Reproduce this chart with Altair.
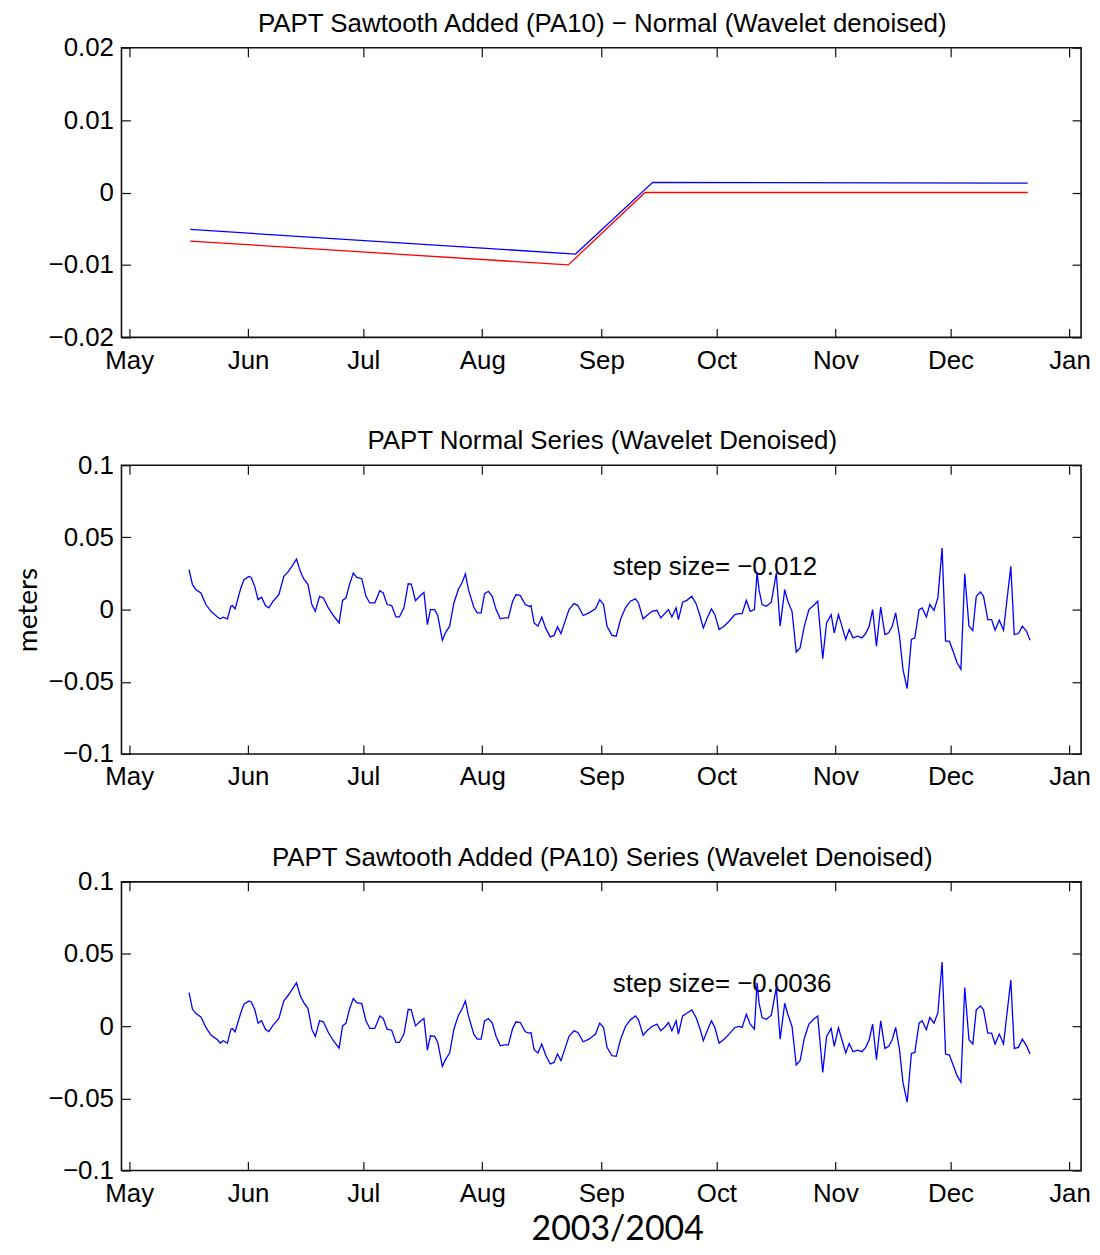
import altair as alt
import pandas as pd

START = "2003-05-01"  # day offsets below are counted from this date

# ---------------- panel 1: trend lines (day offset, metres)
trend_blue_days = [15.9, 116.3, 136.4, 234.1]
trend_blue_vals = [-0.0051, -0.0085, 0.0014, 0.0013]
trend_red_days = [15.9, 114.4, 134.4, 234.1]
trend_red_vals = [-0.0067, -0.0100, 0.0000, 0.0000]

# ---------------- panels 2 and 3: denoised series (day offset, metres)
days = [
    15.6, 16.5, 17.4, 18.7, 20.0, 21.3, 23.0, 23.7, 24.5, 25.6, 26.5, 26.9, 27.6, 29.1, 29.9,
    31.2, 31.8, 32.7, 33.6, 34.5, 35.5, 36.4, 37.5, 39.0, 40.3, 41.3, 42.4, 43.6, 44.6, 45.5,
    46.6, 47.6, 48.5, 49.6, 50.6, 51.9, 53.2, 54.7, 55.6, 56.5, 57.4, 58.4, 59.3, 60.6, 61.7,
    62.7, 64.0, 65.3, 66.2, 67.2, 68.4, 69.5, 70.4,
    71.6, 72.7, 73.5, 74.6, 75.7, 76.8, 77.7, 78.5, 79.6, 80.4, 81.6, 82.4, 83.5, 84.6, 85.8,
    86.7, 87.6, 88.4, 89.8, 90.7, 91.7, 92.6, 93.6, 94.6, 95.6, 96.7, 97.7, 98.8, 99.9, 100.8,
    101.9, 103.2, 104.2, 104.7, 105.5, 106.5, 107.5, 108.5, 109.7, 110.7, 111.6, 112.5, 113.5,
    114.6, 115.9, 116.9, 118.3, 119.8, 121.5, 122.6, 123.6,
    124.5, 125.8, 126.9, 128.0, 129.3, 130.6, 131.9, 132.7, 133.9, 134.9, 136.2, 137.5, 138.5,
    139.7, 140.5, 141.4, 142.5, 143.1, 144.2, 145.3, 146.6, 147.7, 148.7, 149.6, 150.6, 151.7,
    152.6, 153.7, 155.0, 156.3, 157.8, 158.9, 159.7, 160.8, 161.8, 162.9, 163.6, 164.1, 164.9,
    166.0, 167.3, 168.6, 169.6, 170.8, 171.6, 172.7, 173.8, 174.8, 175.9, 177.1, 178.3, 179.4,
    180.7, 181.7, 182.9, 183.7, 184.8, 185.7, 186.7, 187.6, 188.6, 189.8, 190.9, 191.9, 192.8,
    193.7, 194.7, 195.8, 196.9, 197.9, 198.8, 199.7, 200.7, 201.6, 202.7, 203.8, 204.7, 205.8,
    206.6, 207.7, 208.6, 209.7, 210.7, 211.8, 212.7, 213.7, 214.8, 215.7, 216.7, 217.7, 218.8,
    219.8, 220.7, 221.8, 222.6, 223.7, 224.7, 225.6, 226.7, 227.8, 229.7, 230.6, 231.7, 232.7,
    233.8, 234.7,
]

normal_vals = [
    0.0276, 0.0173, 0.0138, 0.0115, 0.0035, -0.0012, -0.0051, -0.0064, -0.0053, -0.0064, 0.0023,
    0.0028, 0.0005, 0.0150, 0.0207, 0.0230, 0.0223, 0.0161, 0.0069, 0.0085, 0.0028, 0.0012,
    0.0058, 0.0104, 0.0230, 0.0258, 0.0299, 0.0350, 0.0265, 0.0212, 0.0173, 0.0035, -0.0012,
    0.0092, 0.0081, 0.0012, -0.0041, -0.0092, 0.0064, 0.0081, 0.0173, 0.0253, 0.0223, 0.0214,
    0.0092, 0.0046, 0.0046, 0.0131, 0.0115, 0.0035, 0.0028, -0.0051, -0.0051,
    0.0012, 0.0179, 0.0177, 0.0062, 0.0092, 0.0120, -0.0104, 0.0000, 0.0000, -0.0041, -0.0212,
    -0.0161, -0.0115, 0.0046, 0.0143, 0.0184, 0.0248, 0.0138, 0.0016, -0.0023, -0.0023, 0.0110,
    0.0127, 0.0092, 0.0000, -0.0064, -0.0058, -0.0058, 0.0058, 0.0104, 0.0097, 0.0035, 0.0023,
    0.0028, -0.0092, -0.0115, -0.0051, -0.0127, -0.0189, -0.0179, -0.0120, -0.0166, -0.0087,
    0.0000, 0.0041, 0.0028, -0.0041, -0.0023, 0.0005, 0.0069, 0.0035,
    -0.0115, -0.0179, -0.0184, -0.0069, 0.0012, 0.0058, 0.0074, 0.0046, -0.0064, -0.0041,
    -0.0012, -0.0005, -0.0058, -0.0023, 0.0000, -0.0051, 0.0012, -0.0069, 0.0051, 0.0064,
    0.0092, 0.0041, -0.0041, -0.0127, -0.0058, 0.0005, -0.0035, -0.0138, -0.0115, -0.0081,
    -0.0035, -0.0028, -0.0028, 0.0064, -0.0012, 0.0000, 0.0258, 0.0138, 0.0035, 0.0023, 0.0051,
    0.0253, -0.0115, 0.0138, 0.0058, -0.0012, -0.0294, -0.0265, -0.0115, 0.0000, 0.0028, 0.0058,
    -0.0340, -0.0092, -0.0035, -0.0161, -0.0035, -0.0115, -0.0207, -0.0138, -0.0196, -0.0184,
    -0.0196, -0.0166, -0.0115, 0.0000, -0.0253, 0.0018, -0.0173, -0.0161, -0.0115, -0.0023,
    -0.0184, -0.0414, -0.0547, -0.0207, -0.0196, 0.0000, 0.0012, -0.0051, 0.0035, -0.0005,
    0.0081, 0.0426, -0.0219, -0.0219, -0.0299, -0.0368, -0.0414, 0.0248, -0.0115, -0.0145,
    0.0092, 0.0122, 0.0092, -0.0069, -0.0069, -0.0143, -0.0074, -0.0143, 0.0299, -0.0173,
    -0.0166, -0.0115, -0.0150, -0.0212,
]

sawtooth_vals = [
    0.0232, 0.0117, 0.0087, 0.0064, -0.0009, -0.0062, -0.0094, -0.0117, -0.0101, -0.0117,
    -0.0021, -0.0016, -0.0039, 0.0094, 0.0152, 0.0175, 0.0168, 0.0117, 0.0021, 0.0037, -0.0021,
    -0.0037, 0.0007, 0.0053, 0.0175, 0.0209, 0.0251, 0.0301, 0.0209, 0.0163, 0.0122, -0.0021,
    -0.0071, 0.0037, 0.0030, -0.0044, -0.0101, -0.0152, 0.0002, 0.0021, 0.0117, 0.0191, 0.0163,
    0.0156, 0.0037, -0.0016, -0.0016, 0.0071, 0.0053, -0.0021, -0.0028, -0.0113, -0.0113,
    -0.0055, 0.0117, 0.0113, 0.0002, 0.0030, 0.0053, -0.0166, -0.0067, -0.0071, -0.0113,
    -0.0278, -0.0232, -0.0186, -0.0021, 0.0076, 0.0117, 0.0175, 0.0071, -0.0055, -0.0090,
    -0.0090, 0.0037, 0.0053, 0.0021, -0.0071, -0.0136, -0.0129, -0.0129, -0.0016, 0.0030,
    0.0025, -0.0039, -0.0048, -0.0044, -0.0163, -0.0186, -0.0124, -0.0200, -0.0262, -0.0251,
    -0.0193, -0.0239, -0.0159, -0.0071, -0.0032, -0.0044, -0.0108, -0.0090, -0.0055, 0.0021,
    -0.0009,
    -0.0147, -0.0205, -0.0209, -0.0094, -0.0002, 0.0044, 0.0071, 0.0044, -0.0062, -0.0032,
    -0.0002, 0.0014, -0.0032, -0.0002, 0.0025, -0.0032, 0.0037, -0.0055, 0.0071, 0.0090,
    0.0113, 0.0060, -0.0016, -0.0101, -0.0032, 0.0037, -0.0009, -0.0117, -0.0090, -0.0055,
    -0.0009, -0.0002, -0.0009, 0.0083, 0.0014, -0.0021, 0.0301, 0.0163, 0.0060, 0.0048, 0.0076,
    0.0267, -0.0090, 0.0159, 0.0083, -0.0002, -0.0269, -0.0239, -0.0085, 0.0014, 0.0048, 0.0071,
    -0.0320, -0.0071, -0.0016, -0.0140, -0.0012, -0.0094, -0.0186, -0.0120, -0.0177, -0.0166,
    -0.0177, -0.0147, -0.0094, 0.0014, -0.0232, 0.0037, -0.0154, -0.0140, -0.0094, -0.0009,
    -0.0163, -0.0389, -0.0527, -0.0189, -0.0182, 0.0021, 0.0037, -0.0025, 0.0060, 0.0021,
    0.0094, 0.0444, -0.0193, -0.0200, -0.0278, -0.0343, -0.0389, 0.0267, -0.0094, -0.0124,
    0.0113, 0.0140, 0.0113, -0.0048, -0.0048, -0.0124, -0.0055, -0.0124, 0.0320, -0.0154,
    -0.0147, -0.0090, -0.0136, -0.0193,
]

# annotations
note_day = 126.0
note_val = 0.024
note_normal = "step size= \u22120.012"
note_sawtooth = "step size= \u22120.0036"

titles = [
    "PAPT Sawtooth Added (PA10) \u2212 Normal (Wavelet denoised)",
    "PAPT Normal Series (Wavelet Denoised)",
    "PAPT Sawtooth Added (PA10) Series (Wavelet Denoised)",
]
month_ticks = [(2003, 5), (2003, 6), (2003, 7), (2003, 8), (2003, 9),
               (2003, 10), (2003, 11), (2003, 12), (2004, 1)]
y_ticks_top = [-0.02, -0.01, 0, 0.01, 0.02]
y_ticks = [-0.1, -0.05, 0, 0.05, 0.1]

assert len(days) == len(normal_vals) == len(sawtooth_vals)


def to_iso(offsets):
    base = pd.Timestamp(START)
    return [(base + pd.Timedelta(days=d)).strftime("%Y-%m-%dT%H:%M:%S") for d in offsets]


def frame(offsets, vals):
    return pd.DataFrame({"date": to_iso(offsets), "value": vals})


FONT = "Liberation Sans"
FS = 26
TICK = 9
W = 964
BLUE = "#0000ff"
RED = "#ff0000"

month_values = [alt.DateTime(year=y, month=m, date=1) for y, m in month_ticks]
x_scale = alt.Scale(domain=[alt.DateTime(year=2003, month=4, date=29),
                            alt.DateTime(year=2004, month=1, date=4)])


def axis_common():
    return dict(offset=-TICK, tickSize=TICK, tickColor="#111111", tickWidth=1.2,
                domain=False, grid=False, minExtent=0)


def axis_bottom(**kw):
    return alt.Axis(orient="bottom", values=month_values, format="%b",
                    labelFont=FONT, labelFontSize=FS, labelColor="black",
                    labelPadding=10, labelFlush=False, labelOverlap=False,
                    **axis_common(), **kw)


def axis_top():
    return alt.Axis(orient="top", values=month_values, labels=False, **axis_common())


def axis_left(vals, **kw):
    return alt.Axis(orient="left", values=vals, format=".2~f",
                    labelFont=FONT, labelFontSize=FS, labelColor="black",
                    labelPadding=8, labelOverlap=False, **axis_common(), **kw)


def axis_right(vals):
    return alt.Axis(orient="right", values=vals, labels=False, **axis_common())


def panel(series, title, ydom, yvals, height, note=None, ytitle=None, xtitle=None):
    ys = alt.Scale(domain=ydom, nice=False, zero=False)
    layers = []
    # panel title drawn as a text mark just above the plot frame
    tdf = pd.DataFrame({"t": [title]})
    layers.append(alt.Chart(tdf).mark_text(
        align="center", baseline="alphabetic", font=FONT, fontSize=FS, color="black"
    ).encode(x=alt.value(W / 2 + 1), y=alt.value(-16), text="t:N"))
    if note is not None:
        ndf = pd.DataFrame({"date": to_iso([note_day]), "value": [note_val], "label": [note]})
        layers.append(alt.Chart(ndf).mark_text(
            align="left", baseline="alphabetic", font=FONT, fontSize=FS, color="black"
        ).encode(
            x=alt.X("date:T", scale=x_scale, axis=None),
            y=alt.Y("value:Q", scale=ys, axis=None),
            text="label:N",
        ))
    for i, (df, color) in enumerate(series):
        if i == 0:
            xkw = {}
            if xtitle is not None:
                xkw = dict(titleFont="Lato", titleFontSize=34, titleFontWeight="normal",
                           titleColor="black", titleX=498, titleY=78,
                           titleBaseline="alphabetic", titleAlign="center")
            ykw = {}
            if ytitle is not None:
                ykw = dict(titleFont="Lato", titleFontSize=28, titleFontWeight="normal",
                           titleColor="black", titleX=-94, titleY=height / 2,
                           titleBaseline="alphabetic", titleAlign="center", titleAngle=270)
            x = alt.X("date:T", scale=x_scale, axis=axis_bottom(**xkw), title=xtitle)
            y = alt.Y("value:Q", scale=ys, axis=axis_left(yvals, **ykw), title=ytitle)
        else:
            x = alt.X("date:T", scale=x_scale, axis=None)
            y = alt.Y("value:Q", scale=ys, axis=None)
        layers.append(alt.Chart(df).mark_line(color=color, strokeWidth=1.3).encode(x=x, y=y))
    ghost = alt.Chart(series[0][0]).mark_line(strokeOpacity=0).encode(
        x=alt.X("date:T", scale=x_scale, axis=axis_top(), title=None),
        y=alt.Y("value:Q", scale=ys, axis=axis_right(yvals), title=None),
    )
    layers.append(ghost)
    return alt.layer(*layers).resolve_axis(x="independent", y="independent").properties(
        width=W, height=height,
    )


p1 = panel([(frame(trend_blue_days, trend_blue_vals), BLUE),
            (frame(trend_red_days, trend_red_vals), RED)],
           titles[0], [-0.02, 0.02], y_ticks_top, 291)
p2 = panel([(frame(days, normal_vals), BLUE)], titles[1], [-0.1, 0.1], y_ticks, 290,
           note=note_normal, ytitle="meters")
p3 = panel([(frame(days, sawtooth_vals), BLUE)], titles[2], [-0.1, 0.1], y_ticks, 290,
           note=note_sawtooth, xtitle="2003/2004")

chart = alt.vconcat(p1, p2, p3, spacing=53.5).properties(
    padding={"left": 6, "top": -1, "right": 0, "bottom": 0}
).configure_view(stroke="#111111", strokeWidth=1.6)

chart.save("out.html", embed_options={"renderer": "svg", "actions": False})
